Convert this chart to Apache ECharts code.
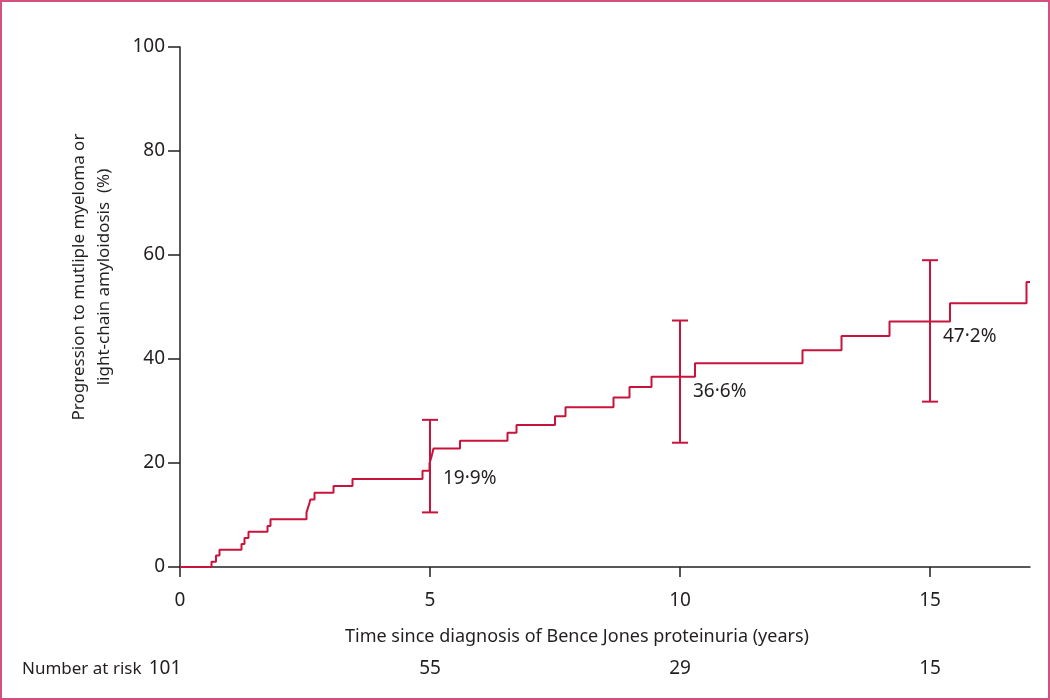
<!DOCTYPE html>
<html>
<head>
<meta charset="utf-8">
<script src="https://cdn.jsdelivr.net/npm/echarts@6/dist/echarts.min.js"></script>
<style>
html,body{margin:0;padding:0;background:#fff;}
#frame{width:1050px;height:700px;box-sizing:border-box;border:2px solid #d4517f;position:relative;}
#chart{position:absolute;left:-2px;top:-2px;width:1050px;height:700px;}
</style>
</head>
<body>
<div id="frame"><div id="chart"></div></div>
<script>
// Kaplan-Meier step curve: time (years) and cumulative progression (%)
const kmTimes = [0, 0.63, 0.72, 0.79, 1.23, 1.29, 1.37, 1.75, 1.81, 2.53, 2.57, 2.61, 2.69, 3.07, 3.45, 4.85, 4.99, 5.03, 5.07, 5.6, 6.55, 6.73, 7.5, 7.71, 8.67, 8.99, 9.43, 10.3, 12.45, 13.23, 14.19, 15.4, 16.93, 17];
const kmValues = [0, 1.0, 2.2, 3.3, 4.4, 5.6, 6.8, 7.9, 9.2, 10.5, 11.7, 13.0, 14.3, 15.6, 16.9, 18.5, 19.9, 21.2, 22.8, 24.3, 25.8, 27.3, 29.0, 30.7, 32.6, 34.6, 36.6, 39.2, 41.7, 44.4, 47.2, 50.7, 54.8, 54.8];

// Confidence intervals at 5, 10, 15 years
const ciTimes = [5, 10, 15];
const ciEstimate = [19.9, 36.6, 47.2];
const ciLow = [10.5, 23.9, 31.8];
const ciHigh = [28.3, 47.4, 59.0];
const ciLabels = ['19·9%', '36·6%', '47·2%'];

// Axis ticks
const xTicks = [0, 5, 10, 15];
const yTicks = [0, 20, 40, 60, 80, 100];

// Number at risk
const riskTimes = [0, 5, 10, 15];
const riskCounts = [101, 55, 29, 15];

const RED = '#c8143c';
const INK = '#231f20';
const FONT = 'Noto Sans';

const chart = echarts.init(document.getElementById('chart'), null, {renderer: 'canvas'});

const kmData = kmTimes.map((t, i) => [t, kmValues[i]]);
const ciData = ciTimes.map((t, i) => [t, ciLow[i], ciHigh[i], ciEstimate[i], i]);

chart.setOption({
  animation: false,
  backgroundColor: 'transparent',
  grid: {left: 180, right: 20, top: 47, bottom: 133, containLabel: false},
  xAxis: [{
    type: 'value', min: 0, max: 17, interval: 5,
    axisLine: {show: true, lineStyle: {color: INK, width: 1.5}},
    axisTick: {show: true, length: 10, lineStyle: {color: INK, width: 1.5}, customValues: xTicks},
    axisLabel: {customValues: xTicks, margin: 24, color: INK, fontFamily: FONT, fontSize: 19},
    splitLine: {show: false},
    name: 'Time since diagnosis of Bence Jones proteinuria (years)',
    nameLocation: 'middle', nameGap: 61,
    nameTextStyle: {color: INK, fontFamily: FONT, fontSize: 18, padding: [0, 56, 0, 0]}
  }, {
    type: 'value', min: 0, max: 17, position: 'bottom', offset: 0,
    axisLine: {show: false}, axisTick: {show: false}, splitLine: {show: false},
    axisLabel: {
      customValues: riskTimes, margin: 92, color: INK, fontFamily: FONT, fontSize: 19,
      formatter: function (v) {
        const i = riskTimes.indexOf(v);
        if (i < 0) return '';
        return i === 0 ? '{a|' + riskCounts[i] + '}' : String(riskCounts[i]);
      },
      rich: {a: {padding: [0, 30, 0, 0], color: INK, fontFamily: FONT, fontSize: 19}}
    }
  }],
  yAxis: {
    type: 'value', min: 0, max: 100, interval: 20,
    axisLine: {show: true, lineStyle: {color: INK, width: 1.5}},
    axisTick: {show: true, length: 12, lineStyle: {color: INK, width: 1.5}, customValues: yTicks},
    axisLabel: {customValues: yTicks, margin: 15, color: INK, fontFamily: FONT, fontSize: 19},
    splitLine: {show: false},
    name: 'Progression to mutliple myeloma or\nlight-chain amyloidosis  (%)',
    nameLocation: 'middle', nameGap: 63, nameRotate: 90,
    nameTextStyle: {color: INK, fontFamily: FONT, fontSize: 17, lineHeight: 25, padding: [0, 0, 0, 60]}
  },
  graphic: [{
    type: 'text', left: 22, top: 661,
    style: {text: 'Number at risk', fill: INK, font: '17px "Noto Sans"'}
  }],
  series: [{
    type: 'line', step: 'end', data: kmData, showSymbol: false, symbol: 'none',
    lineStyle: {color: RED, width: 2}, xAxisIndex: 0
  }, {
    type: 'custom', xAxisIndex: 0, data: ciData,
    renderItem: function (params, api) {
      const t = api.value(0);
      const lo = api.coord([t, api.value(1)]);
      const hi = api.coord([t, api.value(2)]);
      const est = api.coord([t, api.value(3)]);
      const idx = api.value(4);
      const w = 8;
      const style = {stroke: RED, lineWidth: 2};
      return {
        type: 'group',
        children: [
          {type: 'line', shape: {x1: lo[0], y1: lo[1], x2: hi[0], y2: hi[1]}, style},
          {type: 'line', shape: {x1: lo[0] - w, y1: lo[1], x2: lo[0] + w, y2: lo[1]}, style},
          {type: 'line', shape: {x1: hi[0] - w, y1: hi[1], x2: hi[0] + w, y2: hi[1]}, style},
          {type: 'text', x: est[0] + 13, y: est[1] + 15,
           style: {text: ciLabels[idx], fill: INK, font: '19px "Noto Sans"', textVerticalAlign: 'middle', textAlign: 'left'}}
        ]
      };
    }
  }]
});
</script>
</body>
</html>
